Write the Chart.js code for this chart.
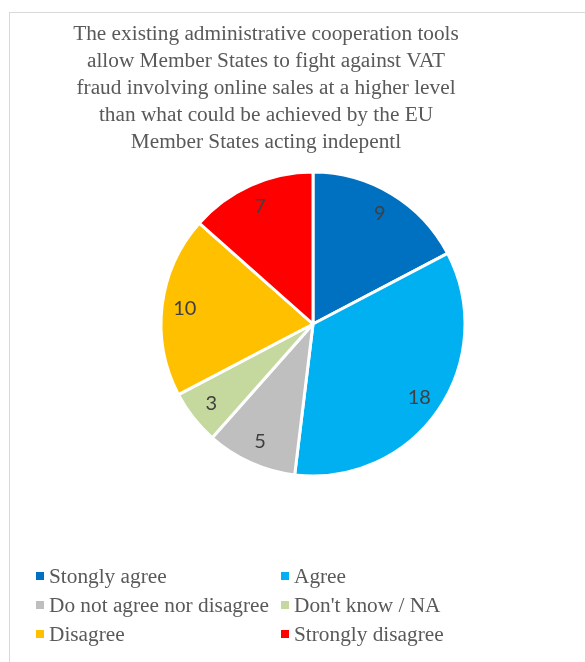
<!DOCTYPE html>
<html>
<head>
<meta charset="utf-8">
<script src="https://cdn.jsdelivr.net/npm/chart.js@4.4.0/dist/chart.umd.min.js"></script>
<style>
    html, body { margin: 0; padding: 0; background: #fff; overflow: hidden; }
    #wrap { position: relative; width: 585px; height: 662px; }
    #frame { position: absolute; left: 9px; top: 12px; width: 700px; height: 700px;
             border-left: 1px solid #d9d9d9; border-top: 1px solid #d9d9d9; }
    #chart { position: absolute; left: 0; top: 0; }
</style>
</head>
<body>
<div id="wrap">
    <div id="frame"></div>
    <canvas id="chart" width="585" height="662"></canvas>
</div>
<script>
const titleLines = [
    "The existing administrative cooperation tools",
    "allow Member States to fight against VAT",
    "fraud involving online sales at a higher level",
    "than what could be achieved by the EU",
    "Member States acting indepentl"
];
const categories = ["Stongly agree", "Agree", "Do not agree nor disagree", "Don't know / NA", "Disagree", "Strongly disagree"];
const values = [9, 18, 5, 3, 10, 7];
const colors = ["#0070C0", "#00B0F0", "#BFBFBF", "#C5D99F", "#FFC000", "#FF0000"];

const SERIF = "'Liberation Serif', 'Times New Roman', serif";
const TEXT_GRAY = "#595959";

// slice values inside each arc
const sliceLabels = {
    id: 'sliceLabels',
    afterDatasetsDraw(chart) {
        const ctx = chart.ctx;
        const meta = chart.getDatasetMeta(0);
        ctx.save();
        ctx.font = "20px Lato, sans-serif";
        ctx.fillStyle = "#404040";
        ctx.textAlign = "center";
        ctx.textBaseline = "middle";
        meta.data.forEach((arc, i) => {
            const p = arc.getProps(['x', 'y', 'startAngle', 'endAngle', 'outerRadius'], true);
            const mid = (p.startAngle + p.endAngle) / 2;
            const r = p.outerRadius * 0.85;
            ctx.fillText(values[i], p.x + Math.cos(mid) * r, p.y + Math.sin(mid) * r);
        });
        ctx.restore();
    }
};

// title and two-column legend, drawn like the office chart
const chrome = {
    id: 'chrome',
    afterDraw(chart) {
        const ctx = chart.ctx;
        ctx.save();
        ctx.fillStyle = TEXT_GRAY;
        ctx.font = "21.3px " + SERIF;
        ctx.textAlign = "center";
        ctx.textBaseline = "alphabetic";
        titleLines.forEach((line, i) => ctx.fillText(line, 266, 40 + i * 27));

        ctx.textAlign = "left";
        categories.forEach((name, i) => {
            const col = i % 2, row = Math.floor(i / 2);
            const x = col === 0 ? 36 : 281;
            const base = 583 + row * 29;
            ctx.fillStyle = colors[i];
            ctx.fillRect(x, base - 11, 8, 8);
            ctx.fillStyle = TEXT_GRAY;
            ctx.fillText(name, x + 13, base);
        });
        ctx.restore();
    }
};

new Chart(document.getElementById('chart'), {
    type: 'pie',
    data: {
        labels: categories,
        datasets: [{
            data: values,
            backgroundColor: colors,
            borderColor: '#ffffff',
            borderWidth: 3,
            hoverOffset: 0
        }]
    },
    options: {
        responsive: false,
        animation: false,
        radius: 152,
        layout: { padding: { left: 41, right: 0, top: 170, bottom: 184 } },
        plugins: {
            legend: { display: false },
            title: { display: false },
            tooltip: { enabled: false }
        }
    },
    plugins: [sliceLabels, chrome]
});
</script>
</body>
</html>
